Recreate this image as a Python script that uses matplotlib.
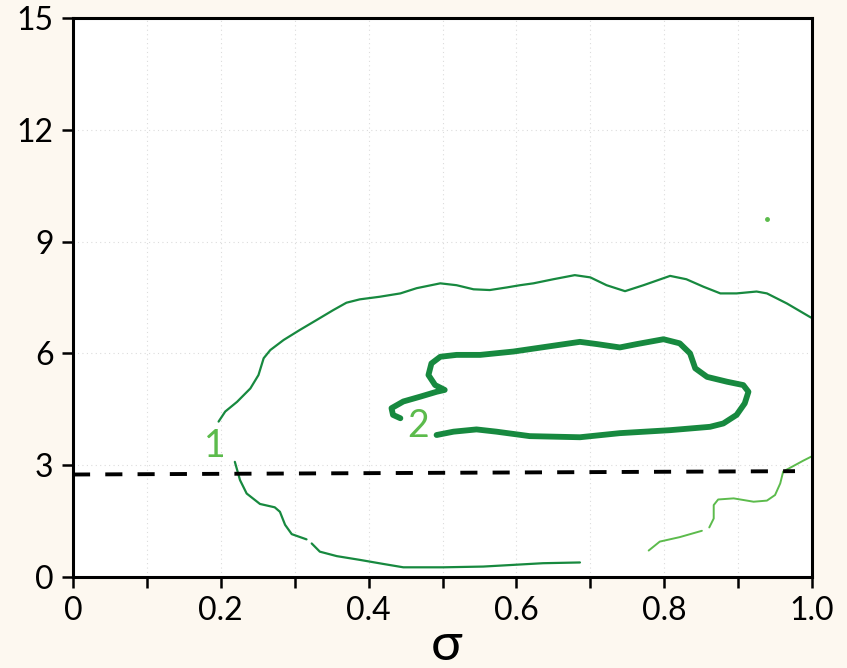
import matplotlib
matplotlib.use("Agg")
import matplotlib.pyplot as plt
import numpy as np

# outer contour (level 1), upper arc
c1_upper_x = [0.197, 0.206, 0.222, 0.240, 0.251, 0.258, 0.267, 0.285, 0.307, 0.330,
              0.352, 0.370, 0.388, 0.415, 0.443, 0.465, 0.497, 0.519, 0.542, 0.564,
              0.587, 0.605, 0.623, 0.650, 0.679, 0.700, 0.722, 0.747, 0.772, 0.808,
              0.830, 0.853, 0.876, 0.898, 0.925, 0.939, 0.966, 0.997, 1.000]
c1_upper_y = [4.17, 4.44, 4.70, 5.06, 5.42, 5.87, 6.09, 6.36, 6.63, 6.90,
              7.16, 7.36, 7.45, 7.52, 7.61, 7.75, 7.88, 7.83, 7.72, 7.70,
              7.77, 7.83, 7.88, 7.99, 8.10, 8.04, 7.83, 7.67, 7.83, 8.08,
              7.99, 7.79, 7.61, 7.61, 7.66, 7.61, 7.34, 6.98, 6.95]

# outer contour, lower arc (broken in two)
c1_lower_a_x = [0.219, 0.226, 0.235, 0.253, 0.273, 0.280, 0.287, 0.296, 0.316]
c1_lower_a_y = [3.09, 2.60, 2.24, 1.96, 1.87, 1.75, 1.40, 1.15, 1.01]
c1_lower_b_x = [0.323, 0.334, 0.357, 0.388, 0.420, 0.447, 0.501, 0.555, 0.591, 0.636, 0.686]
c1_lower_b_y = [0.90, 0.68, 0.56, 0.46, 0.35, 0.26, 0.26, 0.28, 0.32, 0.37, 0.39]

# lighter branch at the lower right
c1_right_a_x = [0.779, 0.794, 0.821, 0.851]
c1_right_a_y = [0.71, 0.95, 1.07, 1.24]
c1_right_b_x = [0.861, 0.867, 0.867, 0.873, 0.894, 0.921, 0.939, 0.950, 0.957, 0.961,
                0.975, 0.988, 1.000]
c1_right_b_y = [1.33, 1.57, 1.93, 2.08, 2.11, 2.02, 2.05, 2.20, 2.51, 2.83,
                2.98, 3.12, 3.24]

# inner contour (level 2)
c2_x = [0.443, 0.433, 0.431, 0.447, 0.470, 0.492, 0.503, 0.490, 0.481, 0.485,
        0.497, 0.519, 0.551, 0.596, 0.641, 0.686, 0.709, 0.740, 0.763, 0.799,
        0.821, 0.835, 0.842, 0.858, 0.885, 0.907, 0.914, 0.909, 0.898, 0.880,
        0.862, 0.808, 0.740, 0.686, 0.618, 0.573, 0.546, 0.515, 0.492]
c2_y = [4.26, 4.35, 4.53, 4.71, 4.84, 4.97, 5.02, 5.15, 5.42, 5.73,
        5.91, 5.96, 5.96, 6.05, 6.18, 6.31, 6.25, 6.16, 6.25, 6.38,
        6.27, 6.00, 5.60, 5.37, 5.24, 5.15, 4.97, 4.66, 4.35, 4.12,
        4.03, 3.94, 3.86, 3.75, 3.78, 3.90, 3.96, 3.90, 3.81]

stray_x, stray_y = [0.939], [9.61]

ref_x = [0.0, 0.977]
ref_y = [2.75, 2.84]

labels = ["1", "2"]
label_x = [0.192, 0.467]
label_y = [3.51, 4.05]

x_ticks = np.arange(0, 1.01, 0.1)
x_ticklabels = ["0", "", "0.2", "", "0.4", "", "0.6", "", "0.8", "", "1.0"]
y_ticks = [0, 3, 6, 9, 12, 15]

dark = "#17893f"
light = "#5cbb4c"
font = ["Lato", "DejaVu Sans"]

fig = plt.figure(figsize=(8.47, 6.68), dpi=100, facecolor="#fdf8f0")
ax = fig.add_axes([73 / 847, 1 - 577 / 668, 739 / 847, 559 / 668])
ax.set_facecolor("white")

thin = dict(color=dark, lw=1.6, solid_capstyle="round", solid_joinstyle="round")
ax.plot(c1_upper_x, c1_upper_y, **thin)
ax.plot(c1_lower_a_x, c1_lower_a_y, **thin)
ax.plot(c1_lower_b_x, c1_lower_b_y, **thin)
ax.plot(c1_right_a_x, c1_right_a_y, color=light, lw=1.4, solid_capstyle="round")
ax.plot(c1_right_b_x, c1_right_b_y, color=light, lw=1.4, solid_capstyle="round")
ax.plot(c2_x, c2_y, color=dark, lw=4.2, solid_capstyle="round", solid_joinstyle="round")
ax.plot(stray_x, stray_y, "o", color=light, ms=2.5)

ax.plot(ref_x, ref_y, color="black", lw=2.8, dashes=(4.4, 3.9), zorder=4)

for t, lx, ly in zip(labels, label_x, label_y):
    ax.text(lx, ly, t, color=light, fontsize=27, family=font, ha="center", va="center")

ax.set_xlim(0, 1.0)
ax.set_ylim(0, 15)
ax.set_xticks(x_ticks)
ax.set_xticklabels(x_ticklabels)
ax.set_yticks(y_ticks)
ax.grid(True, color="#dcdcdc", linestyle=(0, (1, 3)), linewidth=0.8)
ax.set_axisbelow(True)

for s in ax.spines.values():
    s.set_linewidth(2.2)
ax.tick_params(axis="both", direction="out", length=8, width=1.8, pad=6,
               labelsize=23, colors="black")
for lbl in ax.get_xticklabels() + ax.get_yticklabels():
    lbl.set_family(font)

fig.text(446 / 847, 1 - 645 / 668, "σ", fontsize=38, ha="center", va="center",
         family=font)

fig.savefig("out.png", dpi=100, facecolor=fig.get_facecolor())
